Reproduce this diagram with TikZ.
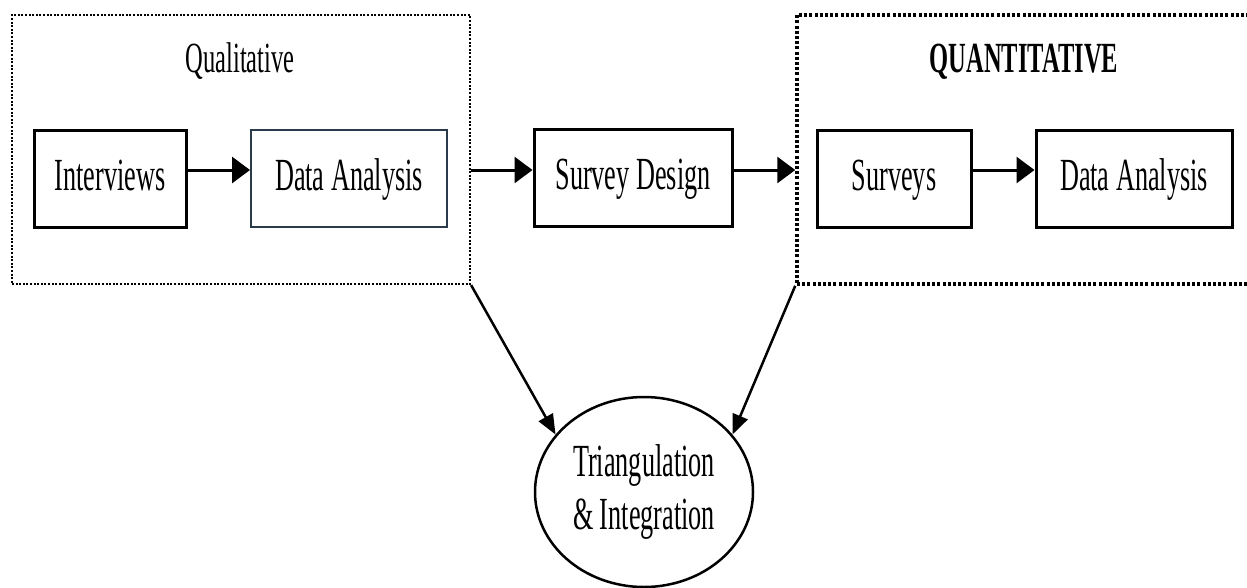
\documentclass[tikz,border=0pt]{standalone}
\usepackage{fontspec}
\setmainfont[FakeStretch=0.57]{Liberation Serif}
\usetikzlibrary{arrows.meta,shapes.geometric}
\definecolor{boxblue}{HTML}{2B3A4A}
\tikzset{
  procbox/.style={draw=black, line width=3pt, minimum height=97pt, inner sep=0pt,
    text height=33pt, text depth=10pt, font=\fontsize{46}{53}\selectfont},
  groupbox/.style={draw=black, line width=2.2pt, dash pattern=on 2pt off 1.6pt, inner sep=0pt},
  groupboxthick/.style={draw=black, line width=3.5pt, dash pattern=on 3pt off 2.2pt, inner sep=0pt},
  flow/.style={line width=3pt, -{Triangle[length=18pt,width=26pt]}},
  conv/.style={line width=2.5pt, -{Triangle[length=20pt,width=16pt]}},
  title/.style={anchor=base, inner sep=0pt, font=\fontsize{43}{50}\selectfont}
}
\begin{document}
\begin{tikzpicture}[x=1pt,y=-1pt]
\useasboundingbox (0,0) rectangle (1247,587);
% group boxes
\node[groupbox, minimum width=458pt, minimum height=269pt] (qual) at (241,149.5) {};
\node[groupboxthick, minimum width=453pt, minimum height=269pt] (quan) at (1023.5,149.5) {};
\node[title] (qualt) at (240,72) {Qualitative};
\node[title, font=\fontsize{43}{50}\selectfont\bfseries] (quant) at (1024,72) {QUANTITATIVE};
% process boxes
\node[procbox, minimum width=152pt] (int) at (110,178.5) {Interviews};
\node[procbox, draw=boxblue, line width=2pt, minimum width=196pt] (da1) at (349,178.5) {Data Analysis};
\node[procbox, minimum width=198pt] (sd) at (633,178) {Survey Design};
\node[procbox, minimum width=154pt] (sur) at (894,178.5) {Surveys};
\node[procbox, minimum width=196pt] (da2) at (1134,178.5) {Data Analysis};
% ellipse
\node[draw=black, line width=2.5pt, ellipse, minimum width=218pt, minimum height=190pt,
  inner sep=0pt, align=center, font=\fontsize{46}{53}\selectfont] (tri) at (644,492)
  {Triangulation\\\& Integration};
% connectors
\coordinate (row) at (0,170);
\draw[flow] (int.east |- row) -- (da1.west |- row);
\draw[flow] (qual.east |- row) -- (sd.west |- row);
\draw[flow] (sd.east |- row) -- (quan.west |- row);
\draw[flow] (sur.east |- row) -- (da2.west |- row);
\draw[conv] (qual.south east) -- (tri.147);
\draw[conv] (quan.south west) -- (tri.33);
\end{tikzpicture}
\end{document}
